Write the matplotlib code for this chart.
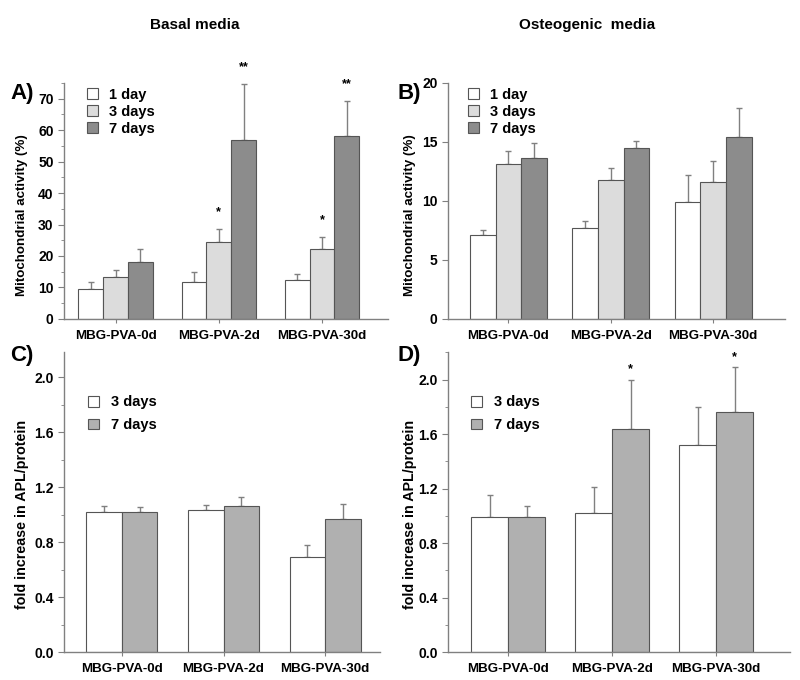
import numpy as np
import matplotlib
matplotlib.use("Agg")
import matplotlib.pyplot as plt
from matplotlib.ticker import MultipleLocator, FormatStrFormatter

plt.rcParams['font.family'] = ['Liberation Sans', 'DejaVu Sans']
plt.rcParams['font.weight'] = 'bold'

groups = ['MBG-PVA-0d', 'MBG-PVA-2d', 'MBG-PVA-30d']

# Panel A (basal, mitochondrial activity %)
a_1day = [9.4, 11.7, 12.3]
a_1day_err = [2.4, 3.3, 2.1]
a_3days = [13.4, 24.6, 22.2]
a_3days_err = [2.3, 3.9, 3.9]
a_7days = [18.2, 56.9, 58.0]
a_7days_err = [4.0, 17.8, 11.2]

# Panel B (osteogenic, mitochondrial activity %)
b_1day = [7.1, 7.7, 9.9]
b_1day_err = [0.4, 0.6, 2.3]
b_3days = [13.1, 11.8, 11.6]
b_3days_err = [1.1, 1.0, 1.8]
b_7days = [13.6, 14.5, 15.4]
b_7days_err = [1.3, 0.6, 2.5]

# Panel C (basal, ALP/protein fold increase)
c_3days = [1.02, 1.03, 0.69]
c_3days_err = [0.045, 0.04, 0.09]
c_7days = [1.02, 1.06, 0.97]
c_7days_err = [0.035, 0.07, 0.11]

# Panel D (osteogenic, ALP/protein fold increase)
d_3days = [0.99, 1.02, 1.52]
d_3days_err = [0.16, 0.19, 0.28]
d_7days = [0.99, 1.64, 1.76]
d_7days_err = [0.08, 0.36, 0.33]

# significance marks: (series index, group index, text)
sig_a = [(1, 1, '*'), (2, 1, '**'), (1, 2, '*'), (2, 2, '**')]
sig_d = [(1, 1, '*'), (1, 2, '*')]

WHITE = '#ffffff'
LIGHT = '#dcdcdc'
DARK = '#8c8c8c'
MID = '#b0b0b0'
EDGE = '#555555'
AXC = '#808080'

fig = plt.figure(figsize=(8, 6.8), dpi=100)

def style_axis(ax):
    for s in ['top', 'right']:
        ax.spines[s].set_visible(False)
    for s in ['left', 'bottom']:
        ax.spines[s].set_color(AXC)
        ax.spines[s].set_linewidth(1.0)
    ax.tick_params(axis='both', which='both', color=AXC, direction='out')
    ax.tick_params(axis='y', which='major', length=4, labelsize=10)
    ax.tick_params(axis='y', which='minor', length=2)
    ax.tick_params(axis='x', which='major', length=3, labelsize=9.6, pad=5)
    ax.set_xticks(range(len(groups)))
    ax.set_xticklabels(groups, fontweight='bold')
    for lab in ax.get_yticklabels():
        lab.set_fontweight('bold')

def draw(ax, series, errs, colors, labels, width):
    n = len(series)
    x = np.arange(len(groups))
    offs = (np.arange(n) - (n - 1) / 2) * width
    tops = []
    for vals, err, c, lab, o in zip(series, errs, colors, labels, offs):
        ax.bar(x + o, vals, width, color=c, edgecolor=EDGE, linewidth=0.8, label=lab, zorder=2)
        ax.errorbar(x + o, vals, yerr=[np.zeros(len(vals)), err], fmt='none',
                    ecolor=AXC, elinewidth=1.0, capsize=2.5, capthick=1.0, zorder=1)
        tops.append((x + o, np.array(vals) + np.array(err)))
    return tops

# Panel A
axA = fig.add_axes([0.08, 0.531, 0.405, 0.347])
topsA = draw(axA, [a_1day, a_3days, a_7days], [a_1day_err, a_3days_err, a_7days_err],
             [WHITE, LIGHT, DARK], ['1 day', '3 days', '7 days'], 0.24)
axA.set_xlim(-0.5, 2.64)
axA.set_ylim(0, 75)
axA.yaxis.set_major_locator(MultipleLocator(10))
axA.yaxis.set_minor_locator(MultipleLocator(5))
axA.set_ylabel('Mitochondrial activity (%)', fontsize=9.6, fontweight='bold')
axA.yaxis.set_label_coords(-0.11, 0.44)
style_axis(axA)
for si, gi, t in sig_a:
    xs, ts = topsA[si]
    axA.text(xs[gi], ts[gi] + 3.5, t, ha='center', va='bottom', fontsize=9, clip_on=False)

# Panel B
axB = fig.add_axes([0.56, 0.531, 0.421, 0.347])
draw(axB, [b_1day, b_3days, b_7days], [b_1day_err, b_3days_err, b_7days_err],
     [WHITE, LIGHT, DARK], ['1 day', '3 days', '7 days'], 0.25)
axB.set_xlim(-0.59, 2.7)
axB.set_ylim(0, 20)
axB.yaxis.set_major_locator(MultipleLocator(5))
axB.set_ylabel('Mitochondrial activity (%)', fontsize=9.6, fontweight='bold')
axB.yaxis.set_label_coords(-0.095, 0.44)
style_axis(axB)

# Panel C
axC = fig.add_axes([0.08, 0.041, 0.395, 0.441])
draw(axC, [c_3days, c_7days], [c_3days_err, c_7days_err],
     [WHITE, MID], ['3 days', '7 days'], 0.35)
axC.set_xlim(-0.57, 2.54)
axC.set_ylim(0, 2.18)
axC.yaxis.set_major_locator(MultipleLocator(0.4))
axC.yaxis.set_minor_locator(MultipleLocator(0.2))
axC.yaxis.set_major_formatter(FormatStrFormatter('%.1f'))
axC.set_ylabel('fold increase in APL/protein', fontsize=10.3, fontweight='bold')
axC.yaxis.set_label_coords(-0.11, 0.46)
style_axis(axC)

# Panel D
axD = fig.add_axes([0.56, 0.041, 0.4275, 0.441])
topsD = draw(axD, [d_3days, d_7days], [d_3days_err, d_7days_err],
             [WHITE, MID], ['3 days', '7 days'], 0.355)
axD.set_xlim(-0.58, 2.71)
axD.set_ylim(0, 2.2)
axD.yaxis.set_major_locator(MultipleLocator(0.4))
axD.yaxis.set_minor_locator(MultipleLocator(0.2))
axD.yaxis.set_major_formatter(FormatStrFormatter('%.1f'))
axD.set_ylabel('fold increase in APL/protein', fontsize=10.3, fontweight='bold')
axD.yaxis.set_label_coords(-0.09, 0.46)
style_axis(axD)
for si, gi, t in sig_d:
    xs, ts = topsD[si]
    axD.text(xs[gi], ts[gi] + 0.03, t, ha='center', va='bottom', fontsize=9, clip_on=False)

legkw = dict(loc='upper left', frameon=False, handlelength=0.75, handleheight=0.75,
             handletextpad=0.8, prop={'weight': 'bold', 'size': 10.5})
axA.legend(bbox_to_anchor=(0.03, 1.035), labelspacing=0.2, **legkw)
axB.legend(bbox_to_anchor=(0.02, 1.035), labelspacing=0.2, **legkw)
axC.legend(bbox_to_anchor=(0.035, 0.9), labelspacing=0.6, **legkw)
axD.legend(bbox_to_anchor=(0.03, 0.9), labelspacing=0.6, **legkw)

fig.text(0.243, 0.963, 'Basal media', ha='center', va='center', fontsize=11, fontweight='bold')
fig.text(0.734, 0.963, 'Osteogenic  media', ha='center', va='center', fontsize=11, fontweight='bold')
for lab, xx, yy in [('A)', 0.013, 0.862), ('B)', 0.497, 0.862), ('C)', 0.013, 0.477), ('D)', 0.497, 0.477)]:
    fig.text(xx, yy, lab, ha='left', va='center', fontsize=16, fontweight='bold')

fig.savefig('out.png', dpi=100)
